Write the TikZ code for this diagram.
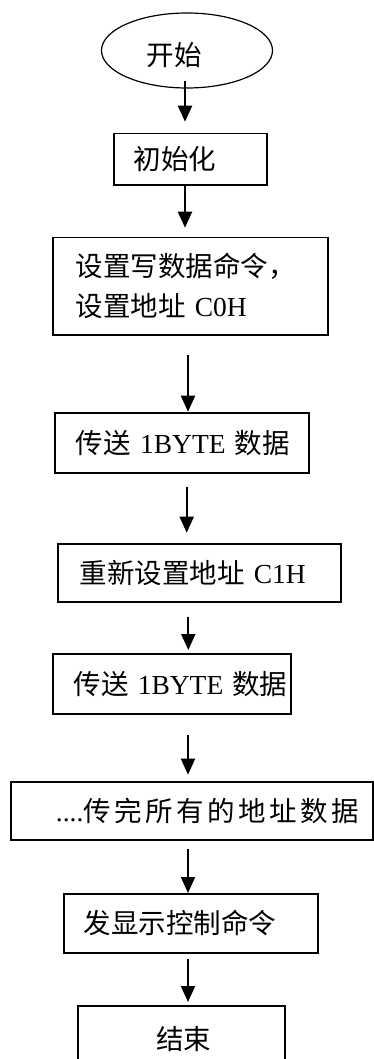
\documentclass[tikz,border=0pt]{standalone}
\usepackage{fontspec}
\setmainfont{Liberation Serif}
\newfontfamily\cjk{Noto Sans CJK SC}
\usetikzlibrary{shapes.geometric,arrows.meta}
\begin{document}
\begin{tikzpicture}[x=1pt,y=-1pt,
  txt/.style={font=\fontsize{27.5}{40}\selectfont},
  box/.style={txt, draw, line width=1.8pt, rectangle, inner xsep=0pt, inner ysep=0pt, align=left, anchor=north west},
  arr/.style={line width=2pt, -{Triangle[width=14pt,length=16pt]}}]
\useasboundingbox (0,0) rectangle (373,1059);

\node[txt, draw, ellipse, line width=1.2pt, minimum width=171pt, minimum height=75pt, inner sep=0pt] (start) at (187,50.5)
  {\raisebox{-5pt}[\height][\depth]{\cjk 开始}\hspace*{26pt}};

\node[box, text width=153.3pt, minimum height=51.3pt] (b2) at (112.7,132.7) {\hspace*{20pt}{\cjk 初始化}};
\node[box, text width=275.3pt, minimum height=97.3pt] (b3) at (51.7,236.7)
  {\hspace*{23pt}{\cjk 设置写数据命令，}\\\hspace*{23pt}{\cjk 设置地址} C0H};
\node[box, text width=254pt, minimum height=60pt] (b4) at (54,411.7) {\hspace*{21pt}{\cjk 传送} 1BYTE {\cjk 数据}};
\node[box, text width=283.3pt, minimum height=58pt] (b5) at (56.7,542.7) {\hspace*{22pt}{\cjk 重新设置地址} C1H};
\node[box, text width=238.3pt, minimum height=59.7pt] (b6) at (51.7,653) {\hspace*{21pt}{\cjk 传送} 1BYTE {\cjk 数据}};
\node[box, text width=362pt, minimum height=58.3pt] (b7) at (10,780.7)
  {\hspace*{45pt}....{\cjk 传\kern3.5pt 完\kern3.5pt 所\kern3.5pt 有\kern3.5pt 的\kern3.5pt 地\kern3.5pt 址\kern3.5pt 数\kern3.5pt 据}};
\node[box, text width=254pt, minimum height=58.7pt] (b8) at (62.7,893) {\hspace*{20pt}{\cjk 发显示控制命令}};
\node[box, text width=206.7pt, minimum height=66pt] (b9) at (77.3,1005) {\hspace*{78pt}{\cjk 结束}};

\coordinate (xa) at (185,0);
\coordinate (xb) at (188,0);
\coordinate (xc) at (186.7,0);
\coordinate (xd) at (188.3,0);

\draw[arr, shorten <=-8pt, shorten >=11pt] (start.south -| xa) -- (b2.north -| xa);
\draw[arr, shorten >=9pt] (b2.south -| xa) -- (b3.north -| xa);
\draw[arr, shorten <=19pt] (b3.south -| xb) -- (b4.north -| xb);
\draw[arr, shorten <=13pt, shorten >=10pt] (b4.south -| xc) -- (b5.north -| xc);
\draw[arr, shorten <=14pt, shorten >=3pt] (b5.south -| xd) -- (b6.north -| xd);
\draw[arr, shorten <=20pt, shorten >=6pt] (b6.south -| xb) -- (b7.north -| xb);
\draw[arr, shorten <=8pt] (b7.south -| xb) -- (b8.north -| xb);
\draw[arr, shorten <=5pt, shorten >=3pt] (b8.south -| xb) -- (b9.north -| xb);
\end{tikzpicture}
\end{document}
